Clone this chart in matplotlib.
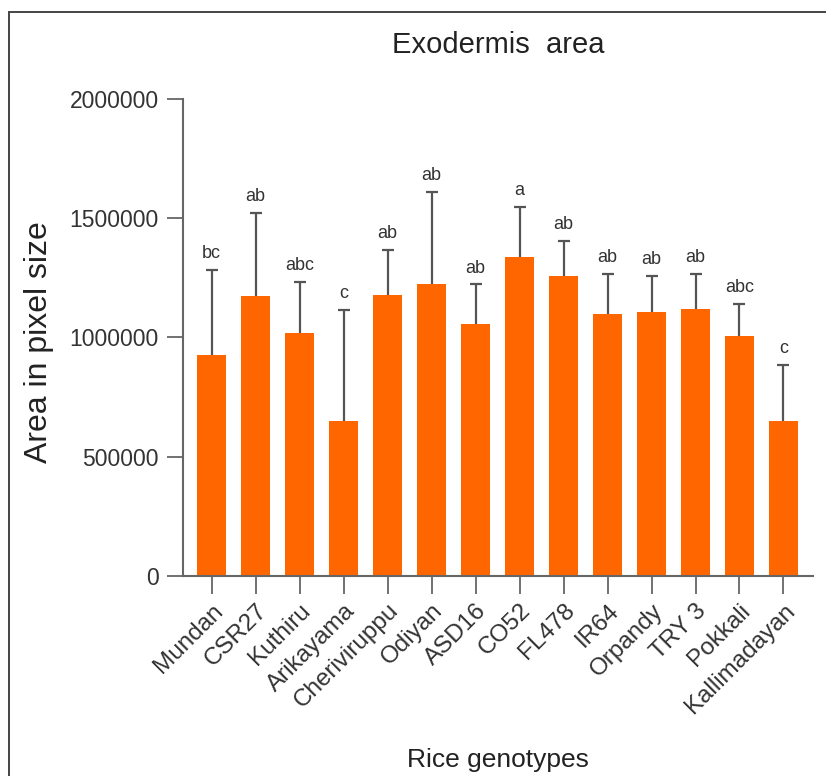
import matplotlib

matplotlib.use("Agg")
import matplotlib.pyplot as plt
import numpy as np
from matplotlib.patches import Rectangle

plt.rcParams["font.family"] = ["Liberation Sans", "DejaVu Sans"]

genotypes = ["Mundan", "CSR27", "Kuthiru", "Arikayama", "Cheriviruppu", "Odiyan", "ASD16",
             "CO52", "FL478", "IR64", "Orpandy", "TRY 3", "Pokkali", "Kallimadayan"]
mean_area = [925000, 1172000, 1018000, 648000, 1179000, 1225000, 1057000,
             1338000, 1259000, 1098000, 1105000, 1119000, 1004000, 648000]
sd_area = [359000, 351000, 213000, 468000, 189000, 385000, 165000,
           210000, 146000, 167000, 154000, 148000, 137000, 235000]
groups = ["bc", "ab", "abc", "c", "ab", "ab", "ab", "a", "ab", "ab", "ab", "ab", "abc", "c"]
y_ticks = [0, 500000, 1000000, 1500000, 2000000]

bar_color = "#ff6600"
axis_color = "#666666"
text_color = "#333333"

fig = plt.figure(figsize=(8.26, 7.76), dpi=100)
ax = fig.add_axes([0.2215, 0.2577, 0.7627, 0.6151])

x = np.arange(len(genotypes))
means = np.asarray(mean_area)
sds = np.asarray(sd_area)
# symmetric bars drawn underneath, so the bar hides the lower half
ax.errorbar(x, means, yerr=sds, fmt="none", ecolor="#555555",
            elinewidth=1.6, capsize=4.5, capthick=1.6, zorder=1)
ax.bar(x, means, width=0.65, color=bar_color, zorder=2)

for xi, top, label in zip(x, means + sds, groups):
    ax.annotate(label, (xi, top), xytext=(0, 8.5), textcoords="offset points",
                ha="center", va="baseline", fontsize=13, color=text_color)

ax.set_xlim(-0.652, 13.67)
ax.set_ylim(0, 2000000)
ax.set_yticks(y_ticks)
ax.set_yticklabels([str(v) for v in y_ticks])
ax.set_xticks(x)
ax.set_xticklabels(genotypes, rotation=45, ha="right", va="top", rotation_mode="anchor")

ax.tick_params(axis="y", length=11.5, width=1.3, color=axis_color, labelsize=16.5,
               labelcolor=text_color, pad=6)
ax.tick_params(axis="x", length=13, width=1.3, color=axis_color, labelsize=17.5,
               labelcolor=text_color, pad=4)
for side in ["top", "right"]:
    ax.spines[side].set_visible(False)
for side in ["left", "bottom"]:
    ax.spines[side].set_color(axis_color)
    ax.spines[side].set_linewidth(1.5)

ax_center = 0.2215 + 0.7627 / 2
fig.text(ax_center, 1 - 45 / 776, "Exodermis  area", ha="center", va="center",
         fontsize=21, color="#222222")
fig.text(ax_center, 1 - 760 / 776, "Rice genotypes", ha="center", va="center",
         fontsize=19, color="#222222")
fig.text(39 / 826, 1 - 342 / 776, "Area in pixel size", ha="center", va="center",
         rotation=90, fontsize=23, color="#222222")

# thin frame around the figure, open at right and bottom like the source image
fig.patches.append(Rectangle((9 / 826, -0.1), 1.2, 1 - 12 / 776 + 0.1, transform=fig.transFigure,
                             fill=False, edgecolor="#444444", linewidth=1.4))

fig.savefig("out.png", dpi=100)
plt.close(fig)
